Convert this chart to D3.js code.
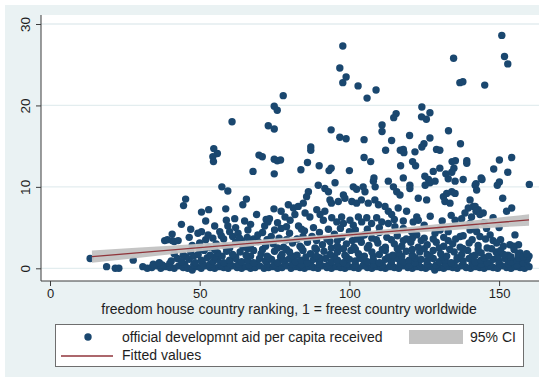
<!DOCTYPE html>
<html>
<head>
<meta charset="utf-8">
<script src="https://cdn.jsdelivr.net/npm/d3@7/dist/d3.min.js"></script>
<style>
  html, body { margin: 0; padding: 0; background: #ffffff; }
  svg { display: block; font-family: "Liberation Sans", Arial, sans-serif; }
</style>
</head>
<body>
<svg id="chart" width="543" height="381"></svg>
<script>
// Freedom House ranking (x) vs. official development aid per capita (y)

const xTicks = [0, 50, 100, 150];
const yTicks = [0, 10, 20, 30];
const xTitle = "freedom house country ranking, 1 = freest country worldwide";
const legendLabels = ["official developmnt aid per capita received", "95% CI", "Fitted values"];

// countries with high aid receipts: [ranking, aid per capita]
const aidUpper = [
  [77.9,21.2],[74.9,19.9],[75.9,19.4],[60.8,18.0],[72.9,17.5],[74.9,17.1],[54.7,14.7],[55.9,14.1],
  [54.4,13.7],[54.6,13.1],[69.8,13.9],[70.9,13.7],[74.9,13.4],[75.9,13.2],[77.0,13.3],[67.8,11.9],
  [74.9,11.6],[150.9,28.6],[97.8,27.3],[134.8,25.8],[151.8,26.0],[152.9,25.1],[96.8,24.6],[98.9,23.5],
  [97.8,22.8],[102.9,22.4],[108.9,21.9],[105.9,20.9],[136.9,22.8],[137.9,22.9],[145.2,22.5],[124.2,19.8],
  [115.6,19.0],[114.8,18.5],[124.1,18.6],[125.7,18.3],[126.9,19.1],[93.9,17.0],[110.9,17.6],[110.9,16.8],
  [96.8,16.1],[98.9,15.9],[104.9,15.8],[120.1,16.3],[133.1,16.9],[126.9,16.0],[124.9,15.3],[124.2,14.9],
  [114.1,15.7],[87.1,14.9],[87.1,14.5],[117.0,14.5],[118.0,14.6],[118.2,14.2],[112.1,14.5],[129.1,14.6],
  [130.2,14.5],[137.1,15.3],[121.9,14.3],[104.9,13.6],[107.1,13.1],[86.0,13.0],[83.8,12.1],[89.9,12.6],
  [93.2,12.0],[93.9,12.3],[100.0,12.0],[117.1,12.6],[121.1,13.1],[122.1,12.6],[134.3,13.1],[135.4,13.2],
  [139.2,13.2],[139.2,12.9],[150.1,13.3],[154.2,13.6],[148.2,12.2],[152.9,11.8],[128.0,11.9],[130.2,12.3],
  [132.2,11.6],[134.2,11.8],[134.9,12.3],[108.2,11.1],[118.0,11.1],[125.2,11.3],[144.0,11.1],[160.1,10.3],
  [150.1,10.6],[149.4,10.2],[144.3,10.9],[142.3,10.4],[151.2,8.6]
];

// mid-range receipts
const aidMiddle = [
  [113.0,10.7],[114.7,10.0],[115.8,9.4],[116.9,9.0],[120.2,10.2],[120.2,9.8],[126.4,10.9],[126.9,10.5],
  [125.3,10.2],[128.6,10.7],[133.0,11.0],[135.3,10.7],[138.0,10.9],[142.0,10.2],[142.5,9.6],[123.0,8.6],
  [125.8,8.4],[131.4,8.8],[132.5,9.2],[134.2,9.4],[135.3,9.2],[131.9,8.2],[133.6,8.0],
  [89.6,10.2],[91.8,9.8],[93.0,9.4],[95.2,10.5],[86.3,9.4],[85.7,8.8],[98.0,9.0],[98.5,8.6],
  [101.3,10.0],[102.4,9.7],[104.6,10.0],[105.2,9.4],[108.0,10.7],[108.6,10.0],[93.5,8.4],[94.0,8.0],
  [96.3,8.2],[100.8,8.2],[102.4,8.0],[104.0,8.4],[106.3,8.0],[108.5,8.4],[109.7,7.8],[79.6,7.8],
  [81.3,7.4],[82.9,7.6],[84.6,8.0],[78.5,6.3],[80.2,5.9],[81.8,6.6],[85.2,6.8],[86.8,6.3],
  [89.1,7.2],[90.2,6.6],[91.8,7.0],[91.3,5.9],[94.1,6.2],[95.8,5.7],[97.4,6.3],[98.0,5.5],
  [100.2,5.9],[101.3,5.3],[103.0,6.3],[104.1,5.7],[105.8,6.2],[107.4,5.5],[109.1,6.2],[110.8,5.7],
  [57.4,10.0],[59.4,9.5],[45.3,8.5],[44.6,7.7],[65.6,8.5],[64.4,7.8],[74.8,7.3],[77.2,7.0],
  [50.6,6.9],[53.0,7.2],[52.0,5.8],[58.7,7.3],[58.9,5.9],[61.7,6.1],[65.0,5.8],[72.2,6.0],
  [73.3,6.1],[59.4,5.2],[60.0,4.5],[56.7,4.5],[57.2,4.0],[49.4,4.3],[50.6,4.5],[52.8,4.1],
  [54.4,3.7],[66.1,4.7],[65.9,3.8],[62.8,4.3],[63.3,3.7],[71.7,5.2],[72.8,5.7],[75.0,4.7],
  [77.2,4.9],[69.4,4.1],[73.9,3.9],[38.3,3.4],[39.2,3.5],[40.8,4.2],[40.8,3.4],[41.5,3.3],
  [42.8,3.4],[43.9,5.4],
  [111.9,7.6],[113.0,7.0],[114.1,6.6],[116.3,7.4],[119.1,7.0],[122.5,6.3],[123.0,5.9],[121.3,5.7],
  [138.6,6.8],[139.7,7.4],[141.4,7.6],[143.0,7.2],[140.8,6.3],[135.3,5.9],[137.5,6.1],[113.0,5.5],
  [115.2,5.1],[118.0,4.9],[120.8,4.5],[128.6,4.3],[130.3,4.7],[133.0,4.5],[140.3,4.7],[142.0,5.1],
  [140.3,8.4],[142.0,7.6],[142.3,7.0],[143.6,6.6],[144.7,6.8],[154.2,7.4],[152.5,7.0],[140.3,5.5],
  [141.4,5.1],[142.5,4.5],[145.8,4.9],[143.6,3.9],[147.0,4.1],[149.2,3.1],[151.4,2.7],[153.6,2.9],
  [155.3,4.1],[154.8,2.7],[156.4,1.8],[158.1,1.4],[159.2,1.8],
  [47.0,4.8],[55.0,5.2],[62.0,5.0],[67.0,5.4],[69.0,6.6],[76.0,5.6],[79.0,5.1],[83.0,5.2],
  [84.0,4.8],[88.0,5.0],[93.0,4.8],[97.0,4.9],[102.0,4.7],[106.0,4.8],[110.0,5.0],[115.0,6.0],
  [118.0,5.8],[125.0,5.3],[127.0,6.4],[131.0,5.8],[134.0,6.5],[145.0,5.6],[148.0,6.2],[150.0,5.0]
];

// the bulk of low receipts
const aidBase = [
  [13.4,1.2],[18.9,0.2],[21.8,0.0],[23.0,0.0],[27.8,1.0],
  [31.0,0.2],[32.5,0.0],[34.0,0.1],[35.5,0.3],[37.0,0.0],[38.5,0.2],[40.0,0.1],[41.5,0.0],
  [43.0,0.3],[44.5,0.1],[46.0,0.0],[47.5,-0.2],[49.0,0.2],[50.5,0.0],[52.0,0.3],[53.5,0.1],
  [55.0,0.0],[56.5,0.2],[58.0,0.1],[59.5,0.0],[61.0,0.3],[62.5,0.1],[64.0,0.0],[65.5,0.2],
  [67.0,0.0],[68.5,0.1],[70.0,0.3],[71.5,0.0],[73.0,0.1],[74.5,0.2],[76.0,0.0],[77.5,0.1],
  [79.0,0.3],[80.5,0.0],[82.0,0.2],[83.5,0.1],[85.0,0.0],[86.5,0.2],[88.0,0.1],[89.5,0.0],
  [91.0,0.3],[92.5,0.1],[94.0,0.0],[95.5,0.2],[97.0,0.1],[98.5,0.0],[100.0,0.2],[101.5,0.1],
  [103.0,0.0],[104.5,0.3],[106.0,0.1],[107.5,0.0],[109.0,0.2],[110.5,0.1],[112.0,0.0],[113.5,0.2],
  [115.0,0.1],[116.5,0.0],[118.0,0.3],[119.5,0.1],[121.0,0.0],[122.5,0.2],[124.0,0.1],[125.5,0.0],
  [127.0,0.2],[128.5,-0.2],[130.0,0.1],[131.5,0.0],[133.0,0.2],[134.5,0.1],[136.0,0.0],[137.5,0.3],
  [139.0,0.1],[140.5,0.0],[142.0,0.2],[143.5,0.1],[145.0,0.0],[146.5,0.2],[148.0,0.1],[149.5,0.0],
  [151.0,0.3],[152.5,0.1],[154.0,0.0],[155.5,0.2],[157.0,0.1],[158.5,0.0],[160.0,0.2],
  [34.5,0.5],[37.5,0.4],[40.0,0.6],[45.0,0.5],[48.0,0.4],[51.0,0.6],[53.5,0.5],[57.0,0.4],
  [60.0,0.6],[63.0,0.5],[66.5,0.4],[69.0,0.6],[72.5,0.5],[75.0,0.4],[78.5,0.6],[81.0,0.5],
  [84.0,0.4],[87.0,0.6],[90.0,0.5],[93.0,0.4],[96.5,0.6],[99.0,0.5],[102.0,0.4],[105.0,0.6],
  [108.0,0.5],[111.0,0.4],[114.0,0.6],[117.0,0.5],[120.0,0.4],[123.0,0.6],[126.0,0.5],[129.0,0.4],
  [132.0,0.6],[135.0,0.5],[138.0,0.4],[141.0,0.6],[144.0,0.5],[147.0,0.4],[150.0,0.6],[153.0,0.5],
  [156.0,0.4],[159.0,0.6],
  [36.5,0.7],[40.5,0.9],[42.5,1.2],[44.0,0.8],[46.5,1.1],[48.5,0.7],[50.5,1.0],[52.5,1.3],
  [54.5,0.8],[56.0,1.1],[58.0,0.7],[60.0,1.0],[62.0,1.2],[64.0,0.8],[66.0,1.0],[68.0,0.7],
  [70.0,1.2],[72.0,0.9],[74.0,1.1],[76.0,0.7],[78.0,1.0],[80.0,1.2],[82.0,0.8],[84.0,1.0],
  [86.0,0.7],[88.0,1.1],[90.0,0.9],[92.0,1.2],[94.0,0.8],[96.0,1.0],[98.0,0.7],[100.0,1.1],
  [102.0,0.9],[104.0,1.2],[106.0,0.8],[108.0,1.0],[110.0,0.7],[112.0,1.1],[114.0,0.9],[116.0,1.2],
  [118.0,0.8],[120.0,1.0],[122.0,0.7],[124.0,1.1],[126.0,0.9],[128.0,1.2],[130.0,0.8],[132.0,1.0],
  [134.0,0.7],[136.0,1.1],[138.0,0.9],[140.0,1.2],[142.0,0.8],[144.0,1.0],[146.0,0.7],[148.0,1.1],
  [150.0,0.9],[152.0,1.2],[154.0,0.8],[156.0,1.0],[158.0,0.7],[159.5,1.1],
  [45.5,1.4],[48.0,1.5],[55.0,1.4],[57.5,1.5],[62.0,1.4],[67.0,1.5],[73.0,1.3],[77.0,1.4],
  [81.0,1.5],[85.5,1.4],[90.0,1.3],[95.0,1.5],[99.0,1.4],[103.5,1.3],[108.0,1.5],[113.0,1.4],
  [117.5,1.5],[122.0,1.3],[127.0,1.5],[131.0,1.4],[136.0,1.3],[141.0,1.5],[145.0,1.3],[149.5,1.4],
  [153.0,1.6],[156.5,1.3],[160.0,1.5],
  [41.5,1.8],[44.5,1.6],[47.0,2.0],[49.5,1.7],[51.5,2.2],[53.5,1.6],[56.0,1.9],[59.0,2.1],
  [61.0,1.7],[63.5,2.0],[65.5,1.6],[68.0,2.2],[70.5,1.8],[72.5,1.5],[75.0,2.1],[77.5,1.7],
  [80.0,2.0],[82.5,1.6],[84.5,2.2],[87.0,1.8],[89.0,1.5],[91.5,2.1],[93.5,1.7],[96.0,2.0],
  [98.5,1.6],[100.5,2.2],[103.0,1.8],[105.0,1.5],[107.5,2.0],[110.0,1.7],[112.0,2.2],[114.5,1.6],
  [116.5,1.9],[119.0,2.1],[121.0,1.6],[123.5,2.0],[126.0,1.7],[128.0,2.2],[130.5,1.8],[132.5,1.5],
  [135.0,2.0],[137.5,1.7],[139.5,2.2],[142.0,1.6],[144.0,1.9],[146.5,1.5],[149.0,2.0],[151.5,1.7],
  [154.0,1.4],[157.0,1.9],
  [50.0,2.4],[55.0,2.3],[60.0,2.5],[66.0,2.4],[71.0,2.3],[76.0,2.5],[79.0,2.3],[84.0,2.5],
  [89.0,2.3],[94.0,2.5],[98.0,2.4],[102.0,2.3],[106.0,2.5],[111.0,2.3],[116.0,2.4],[121.0,2.3],
  [125.0,2.4],[130.0,2.5],[133.5,2.3],[138.0,2.4],[143.0,2.3],[147.5,2.4],[150.5,2.2],[155.0,2.3],
  [47.5,2.8],[50.0,3.1],[53.0,2.6],[55.5,3.0],[58.5,2.7],[62.0,3.2],[64.5,2.6],[67.0,2.9],
  [69.5,3.3],[72.0,2.7],[74.5,3.0],[78.0,2.6],[81.0,3.1],[83.5,2.7],[86.0,3.2],[88.5,2.5],
  [91.0,2.9],[93.5,3.3],[96.0,2.7],[99.0,3.0],[101.5,2.6],[104.0,3.2],[106.5,2.8],[109.5,3.1],
  [112.0,2.6],[115.0,3.0],[117.5,2.7],[120.5,3.2],[123.0,2.6],[126.0,2.9],[129.0,3.2],[131.5,2.7],
  [134.5,3.0],[137.0,2.6],[140.0,3.1],[143.0,2.8],[146.0,2.5],[156.5,2.9],
  [52.0,3.5],[58.0,3.6],[64.0,3.4],[66.5,3.3],[72.5,3.5],[79.0,3.5],[84.5,3.9],[89.0,3.4],
  [96.0,3.4],[101.0,3.4],[104.0,3.9],[109.0,3.5],[114.0,3.5],[118.0,3.4],[121.0,3.7],[124.0,3.4],
  [128.0,3.6],[133.0,3.4],[137.0,3.9],[141.0,3.5],[150.5,3.5],
  [46.5,3.8],[61.0,3.9],[68.0,3.6],[71.0,4.4],[76.5,3.7],[80.0,4.3],[82.5,3.6],[85.0,4.6],
  [87.5,3.9],[90.0,4.4],[92.5,3.6],[95.0,4.2],[97.5,3.8],[100.0,4.5],[102.5,3.6],[105.0,4.1],
  [107.5,3.7],[110.0,4.4],[112.5,3.8],[116.0,4.0],[119.0,3.6],[122.5,4.1],[125.0,3.7],[131.5,3.8],
  [135.5,3.6],[138.0,4.0],[145.5,3.6],[148.0,3.4]
];

// linear fit with 95% confidence band
const fitRank  = [14, 30, 50, 70, 90, 110, 130, 145, 160];
const fitValue = [1.43, 1.92, 2.54, 3.16, 3.78, 4.40, 5.01, 5.48, 5.94];
const ciLower  = [0.67, 1.30, 2.08, 2.82, 3.50, 4.10, 4.59, 4.93, 5.24];
const ciUpper  = [2.19, 2.54, 3.00, 3.50, 4.06, 4.70, 5.43, 6.03, 6.64];

const NAVY = "#1a476f", MAROON = "#90353b", CI_GRAY = "#c2c2c2";
const GRAPH_BG = "#eaf2f3", TEXT = "#1e1e1e", AXIS = "#3c3c3c";

const svg = d3.select("#chart");
const plot = { left: 41, right: 539, top: 15, bottom: 281 };

const x = d3.scaleLinear().domain([0, 150]).range([50, 499.1]);
const y = d3.scaleLinear().domain([0, 30]).range([268.3, 24]);

// graph region and white plot region
svg.append("rect").attr("x", 5).attr("y", 5).attr("width", 534).attr("height", 372).attr("fill", GRAPH_BG);
svg.append("rect").attr("x", plot.left).attr("y", plot.top)
  .attr("width", plot.right - plot.left).attr("height", plot.bottom - plot.top).attr("fill", "#fff");

// horizontal gridlines
svg.append("g").selectAll("line").data(yTicks).join("line")
  .attr("x1", plot.left).attr("x2", plot.right)
  .attr("y1", d => y(d)).attr("y2", d => y(d))
  .attr("stroke", "#e3edef").attr("stroke-width", 1.3);

// scatter
const allPoints = aidBase.concat(aidMiddle, aidUpper);
svg.append("g").selectAll("circle").data(allPoints).join("circle")
  .attr("cx", d => x(d[0])).attr("cy", d => y(d[1])).attr("r", 3.7)
  .attr("fill", NAVY);

// confidence band and fitted line
const band = fitRank.map((r, i) => ({ r, lo: ciLower[i], hi: ciUpper[i], v: fitValue[i] }));
svg.append("path").datum(band)
  .attr("d", d3.area().x(d => x(d.r)).y0(d => y(d.lo)).y1(d => y(d.hi)).curve(d3.curveMonotoneX))
  .attr("fill", CI_GRAY).attr("fill-opacity", 0.95);
svg.append("path").datum(band)
  .attr("d", d3.line().x(d => x(d.r)).y(d => y(d.v)))
  .attr("fill", "none").attr("stroke", MAROON).attr("stroke-width", 1.3);

// axes
const yAxis = svg.append("g").attr("transform", `translate(${plot.left},0)`)
  .call(d3.axisLeft(y).tickValues(yTicks).tickSize(5).tickSizeOuter(0));
yAxis.select(".domain").remove();
yAxis.selectAll(".tick line").attr("stroke", AXIS);
yAxis.selectAll(".tick text")
  .attr("x", 0).attr("y", 0).attr("dy", 0)
  .attr("transform", "translate(-11,0) rotate(-90)")
  .attr("text-anchor", "middle")
  .attr("fill", TEXT).style("font-size", "13.5px").style("font-family", "Liberation Sans, Arial, sans-serif");

const xAxis = svg.append("g").attr("transform", `translate(0,${plot.bottom})`)
  .call(d3.axisBottom(x).tickValues(xTicks).tickSize(5).tickSizeOuter(0));
xAxis.select(".domain").remove();
xAxis.selectAll(".tick line").attr("stroke", AXIS);
xAxis.selectAll(".tick text")
  .attr("y", 17).attr("dy", 0)
  .attr("fill", TEXT).style("font-size", "13px").style("font-family", "Liberation Sans, Arial, sans-serif");

svg.append("line").attr("x1", plot.left).attr("x2", plot.left)
  .attr("y1", plot.top).attr("y2", plot.bottom).attr("stroke", AXIS).attr("stroke-width", 1);
svg.append("line").attr("x1", plot.left).attr("x2", plot.right)
  .attr("y1", plot.bottom).attr("y2", plot.bottom).attr("stroke", AXIS).attr("stroke-width", 1);

// axis title
svg.append("text").attr("x", 289).attr("y", 314).attr("text-anchor", "middle")
  .attr("fill", TEXT).style("font-size", "14px").text(xTitle);

// legend
const lg = svg.append("g");
lg.append("rect").attr("x", 55.5).attr("y", 324.5).attr("width", 468).attr("height", 42)
  .attr("fill", "#fff").attr("stroke", "#6e6e6e").attr("stroke-width", 1);
lg.append("circle").attr("cx", 88).attr("cy", 337).attr("r", 3.7).attr("fill", NAVY);
lg.append("text").attr("x", 122).attr("y", 341.5).attr("fill", TEXT).style("font-size", "14px").text(legendLabels[0]);
lg.append("rect").attr("x", 409).attr("y", 330).attr("width", 54).attr("height", 14).attr("fill", CI_GRAY);
lg.append("text").attr("x", 470).attr("y", 341.5).attr("fill", TEXT).style("font-size", "14px").text(legendLabels[1]);
lg.append("line").attr("x1", 61).attr("x2", 113).attr("y1", 356).attr("y2", 356)
  .attr("stroke", MAROON).attr("stroke-width", 1.3);
lg.append("text").attr("x", 122).attr("y", 360).attr("fill", TEXT).style("font-size", "14px").text(legendLabels[2]);
</script>
</body>
</html>
